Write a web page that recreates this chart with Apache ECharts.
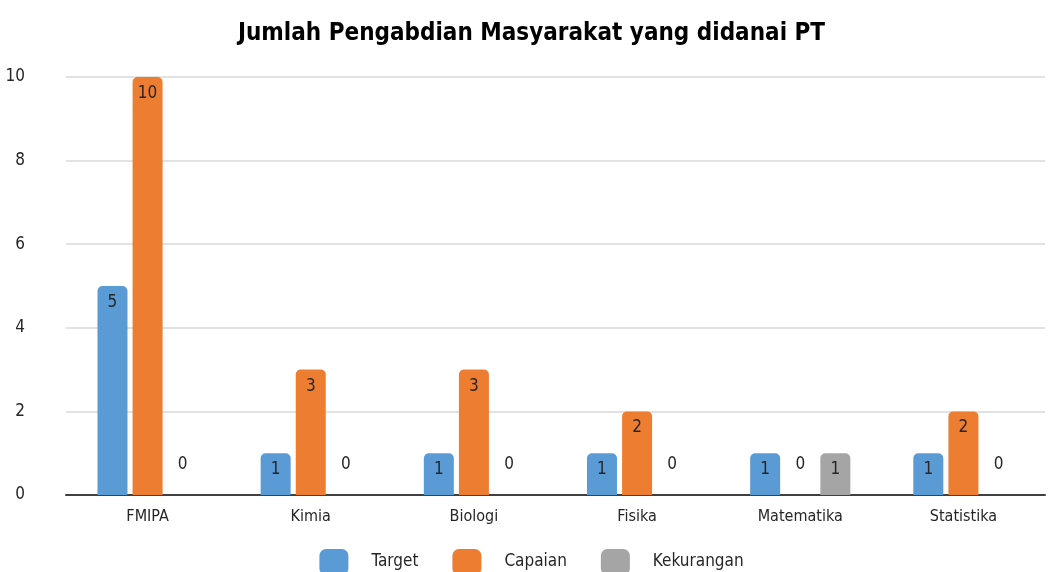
<!DOCTYPE html>
<html>
<head>
<meta charset="utf-8">
<script src="https://cdn.jsdelivr.net/npm/echarts@6/dist/echarts.min.js"></script>
<style>
  html, body { margin: 0; padding: 0; background: #fff; }
  #chart { width: 1063px; height: 572px; }
</style>
</head>
<body>
<div id="chart"></div>
<script>
var categories = ['FMIPA', 'Kimia', 'Biologi', 'Fisika', 'Matematika', 'Statistika'];
var target = [5, 1, 1, 1, 1, 1];
var capaian = [10, 3, 3, 2, 0, 2];
var kekurangan = [0, 0, 0, 0, 1, 0];

var font = "'DejaVu Sans Condensed', 'Liberation Sans Narrow', sans-serif";

// nilai 0 ditaruh di atas sumbu, selain itu di dalam batang
function withLabels(arr) {
    return arr.map(function (v) {
        if (v === 0) {
            return { value: v, label: { position: 'top', distance: 22 } };
        }
        return v;
    });
}

function makeSeries(name, data, color) {
    return {
        name: name,
        type: 'bar',
        barWidth: 30,
        barGap: '17%',
        data: withLabels(data),
        itemStyle: { color: color, borderRadius: [5, 5, 0, 0] },
        label: {
            show: true,
            position: 'insideTop',
            distance: 8,
            color: '#262626',
            fontSize: 17,
            fontFamily: font
        }
    };
}

var chart = echarts.init(document.getElementById('chart'));
chart.setOption({
    animation: false,
    title: {
        text: 'Jumlah Pengabdian Masyarakat yang didanai PT',
        left: 'center',
        top: 17,
        textStyle: { fontSize: 24, fontWeight: 'bold', color: '#000', fontFamily: font }
    },
    legend: {
        bottom: -8,
        left: 'center',
        itemWidth: 29,
        itemHeight: 26,
        itemGap: 34,
        icon: 'roundRect',
        textStyle: { fontSize: 17, color: '#262626', fontFamily: font, padding: [0, 0, 0, 18] }
    },
    grid: { left: 66, right: 18, top: 77, bottom: 77 },
    xAxis: {
        type: 'category',
        data: categories,
        axisTick: { show: false },
        axisLine: { lineStyle: { color: '#404040', width: 2 } },
        axisLabel: { color: '#262626', fontSize: 16, fontFamily: font, margin: 14 }
    },
    yAxis: {
        type: 'value',
        min: 0,
        max: 10,
        interval: 2,
        axisLabel: { color: '#262626', fontSize: 17, fontFamily: font, margin: 41 },
        splitLine: { lineStyle: { color: '#d9d9d9', width: 1.5 } }
    },
    series: [
        makeSeries('Target', target, '#5b9bd5'),
        makeSeries('Capaian', capaian, '#ed7d31'),
        makeSeries('Kekurangan', kekurangan, '#a5a5a5')
    ]
});
</script>
</body>
</html>
